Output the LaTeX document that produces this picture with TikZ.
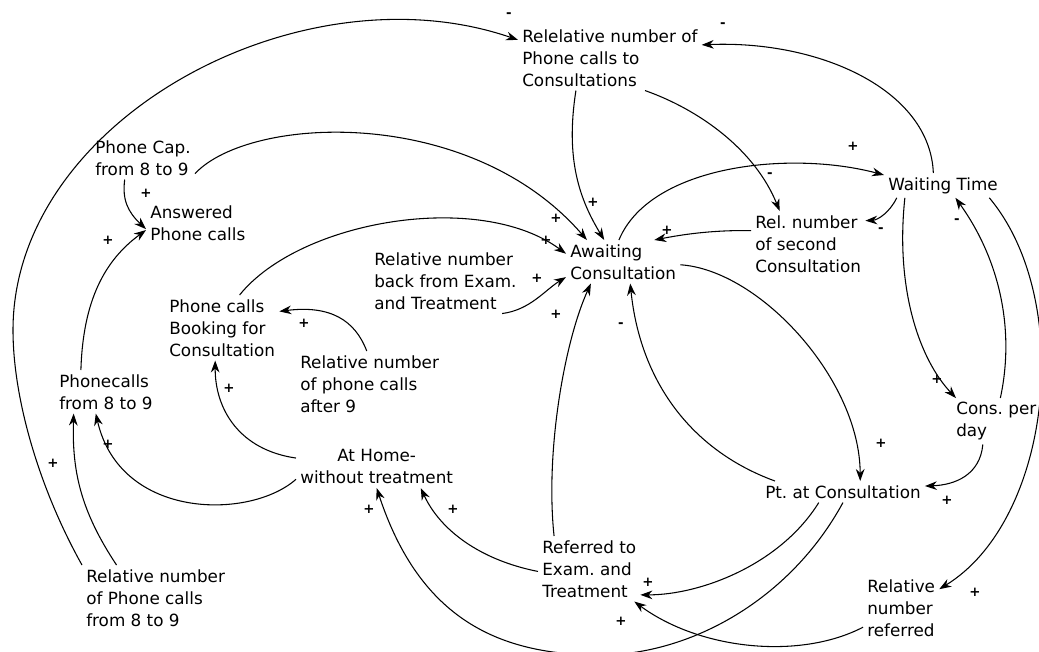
\documentclass[tikz,border=0pt]{standalone}
\usepackage{fontspec}
\setmainfont{DejaVu Sans}
\usetikzlibrary{arrows.meta}
\frenchspacing

\begin{document}
\begin{tikzpicture}[x=0.75pt,y=0.75pt,yscale=-1,xscale=1,
  var/.style={anchor=north west,inner sep=3pt,align=left,font=\fontsize{12.6}{16.5}\selectfont},
  link/.style={line width=0.8pt,-{Stealth[length=9pt,width=6.5pt]}},
  sgn/.style={inner sep=0pt,font=\fontsize{10}{10}\selectfont\bfseries}]
\useasboundingbox (0,0) rectangle (1039,651);

% Text Node
\node [var] (relcons) at (518,25) {Relelative number of\\Phone calls to\\Consultations};
% Text Node
\node [var] (waittime) at (884,173) {Waiting Time};
% Text Node
\node [var] (relsecond) at (751,211) {Rel. number\\of second\\Consultation};
% Text Node
\node [var] (awaiting) at (566,240) {Awaiting\\Consultation};
% Text Node
\node [var] (phonecap) at (91,136) {Phone Cap.\\from 8 to 9};
% Text Node
\node [var] (answered) at (146,201) {Answered\\Phone calls};
% Text Node
\node [var] (relback) at (370,248) {Relative number\\back from Exam.\\and Treatment};
% Text Node
\node [var] (booking) at (165,295) {Phone calls\\Booking for\\Consultation};
% Text Node
\node [var] (after9) at (296,351) {Relative number\\of phone calls\\after 9};
% Text Node
\node [var] (phonecalls89) at (55,370) {Phonecalls\\from 8 to 9};
% Text Node
\node [var,align=center] (athome) at (296,445) {At Home-\\without treatment};
% Text Node
\node [var] (rel89) at (82,565) {Relative number\\of Phone calls\\from 8 to 9};
% Text Node
\node [var] (conspd) at (952,398) {Cons. per\\day};
% Text Node
\node [var] (ptcons) at (761,481) {Pt. at Consultation};
% Text Node
\node [var] (referred) at (538,536) {Referred to\\Exam. and\\Treatment};
% Text Node
\node [var] (relreferred) at (863,575) {Relative\\number\\referred};

%Curve Lines
\draw [link] (rel89.north west) .. controls (40,490) and (13,400) .. (13,330) .. controls (13,120) and (300,-35) .. (relcons.169);
\draw [link] (rel89.140) .. controls (80,510) and (72,470) .. (phonecalls89.214);
\draw [link] (athome.189) .. controls (250,520) and (120,520) .. (phonecalls89.245);
\draw [link] (athome.174) .. controls (240,450) and (215,410) .. (booking.258);
\draw [link] (after9.95) .. controls (355,320) and (330,305) .. (booking.16);
\draw [link] (phonecalls89.139) .. controls (83,300) and (105,260) .. (answered.188);
\draw [link] (phonecap.230) .. controls (122,200) and (128,212) .. (answered.187);
\draw [link] (phonecap.343) .. controls (250,115) and (470,105) .. (awaiting.149);
\draw [link] (booking.62) .. controls (300,220) and (480,190) .. (awaiting.172);
\draw [link] (relback.330) .. controls (530,310) and (545,290) .. (awaiting.195);
\draw [link] (relcons.224) .. controls (565,160) and (580,200) .. (awaiting.131);
\draw [link] (relcons.317) .. controls (700,110) and (755,150) .. (relsecond.131);
\draw [link] (waittime.128) .. controls (930,90) and (820,40) .. (relcons.8);
\draw [link] (awaiting.101) .. controls (650,165) and (790,150) .. (waittime.170);
\draw [link] (waittime.195) .. controls (890,212) and (878,220) .. (relsecond.22);
\draw [link] (relsecond.167) .. controls (710,230) and (680,235) .. (awaiting.35);
\draw [link] (awaiting.357) .. controls (760,270) and (860,380) .. (ptcons.32);
\draw [link] (ptcons.171) .. controls (690,450) and (640,380) .. (awaiting.288);
\draw [link] (referred.137) .. controls (545,450) and (565,340) .. (awaiting.214);
\draw [link] (waittime.198) .. controls (895,290) and (920,360) .. (conspd.150);
\draw [link] (conspd.80) .. controls (1015,330) and (1000,260) .. (waittime.315);
\draw [link] (waittime.345) .. controls (1075,300) and (1052,520) .. (relreferred.26);
\draw [link] (conspd.240) .. controls (980,475) and (955,485) .. (ptcons.4);
\draw [link] (ptcons.204) .. controls (780,565) and (700,595) .. (referred.333);
\draw [link] (ptcons.south) .. controls (790,600) and (690,655) .. (600,655) .. controls (500,655) and (420,620) .. (athome.south);
\draw [link] (relreferred.207) .. controls (800,660) and (700,650) .. (referred.324);
\draw [link] (referred.183) .. controls (480,560) and (440,530) .. (athome.334);

% Signs
\node [sgn] (s1) at (509,15) {-};
\node [sgn] (s2) at (53,463) {+};
\node [sgn] (s3) at (108,444) {+};
\node [sgn] (s4) at (229,388) {+};
\node [sgn] (s5) at (304,323) {+};
\node [sgn] (s6) at (108,240) {+};
\node [sgn] (s7) at (146,193) {+};
\node [sgn] (s8) at (556,218) {+};
\node [sgn] (s9) at (546,240) {+};
\node [sgn] (s10) at (537,278) {+};
\node [sgn] (s11) at (593,202) {+};
\node [sgn] (s12) at (770,175) {-};
\node [sgn] (s13) at (723,25) {-};
\node [sgn] (s14) at (853,146) {+};
\node [sgn] (s15) at (881,230) {-};
\node [sgn] (s16) at (667,230) {+};
\node [sgn] (s17) at (881,443) {+};
\node [sgn] (s18) at (621,325) {-};
\node [sgn] (s19) at (556,314) {+};
\node [sgn] (s20) at (937,379) {+};
\node [sgn] (s21) at (957,221) {-};
\node [sgn] (s22) at (975,592) {+};
\node [sgn] (s23) at (947,500) {+};
\node [sgn] (s24) at (648,582) {+};
\node [sgn] (s25) at (369,509) {+};
\node [sgn] (s26) at (621,621) {+};
\node [sgn] (s27) at (453,509) {+};

\end{tikzpicture}
\end{document}
